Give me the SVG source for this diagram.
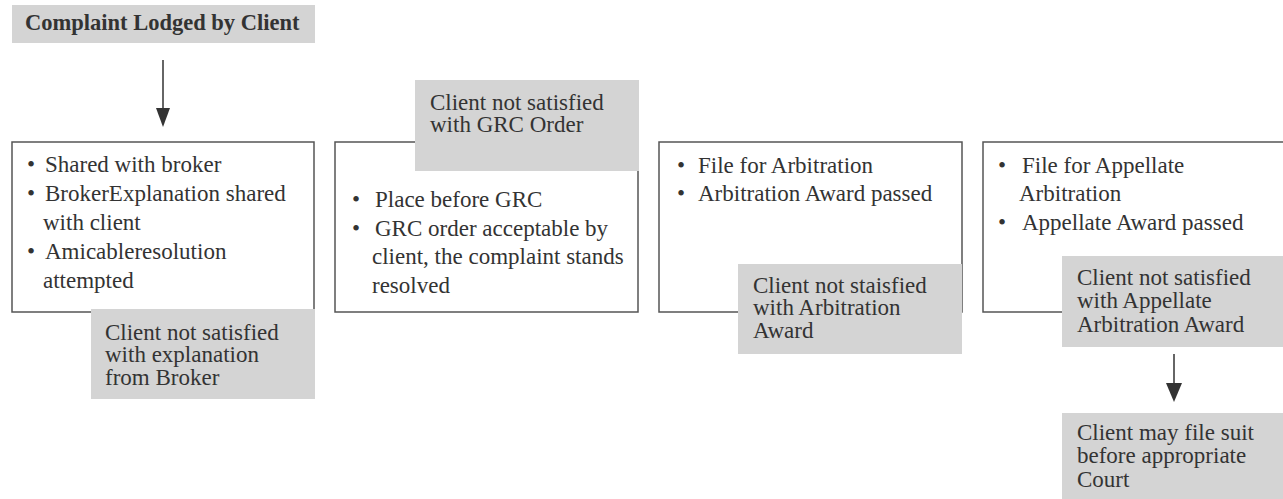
<svg xmlns="http://www.w3.org/2000/svg" width="1283" height="499" viewBox="0 0 1283 499" font-family="'Liberation Serif', 'DejaVu Serif', serif">
<style>
text{font-family:'Liberation Serif','DejaVu Serif',serif;font-size:23px;fill:#333}
.bold{font-weight:bold;font-size:22.5px}
.box{fill:#fff;stroke:#555;stroke-width:1.5}
.grey{fill:#d4d4d4}
.conn{stroke:#333;stroke-width:1.5;fill:none}
.head{fill:#333}
</style>
<rect width="1283" height="499" fill="#fff"/>
<g id="start">
<rect class="grey" x="12" y="5" width="303" height="38"/>
<text class="bold" x="25" y="30">Complaint Lodged by Client</text>
</g>
<g id="connectors">
<line class="conn" x1="163" y1="60" x2="163" y2="108"/>
<path class="head" d="M156,108 L170,108 L163,127 Z"/>
<line class="conn" x1="1174" y1="354" x2="1174" y2="383"/>
<path class="head" d="M1166,383 L1182,383 L1174,402 Z"/>
</g>
<g id="box1">
<rect class="box" x="12" y="142" width="302" height="170"/>
<text x="27" y="172">•</text><text x="45" y="172">Shared with broker</text>
<text x="27" y="201">•</text><text x="45" y="201">BrokerExplanation shared</text>
<text x="43" y="230">with client</text>
<text x="27" y="259">•</text><text x="45" y="259">Amicableresolution</text>
<text x="43" y="288">attempted</text>
</g>
<g id="box2">
<rect class="box" x="335" y="142" width="303" height="170"/>
<text x="352" y="207">•</text><text x="375" y="207">Place before GRC</text>
<text x="352" y="235.5">•</text><text x="375" y="235.5">GRC order acceptable by</text>
<text x="372" y="264">client, the complaint stands</text>
<text x="372" y="293">resolved</text>
</g>
<g id="box3">
<rect class="box" x="659" y="142" width="303" height="170"/>
<text x="677" y="173">•</text><text x="698" y="173">File for Arbitration</text>
<text x="677" y="201">•</text><text x="698" y="201">Arbitration Award passed</text>
</g>
<g id="box4">
<rect class="box" x="983" y="142" width="305" height="170"/>
<text x="998" y="173">•</text><text x="1022" y="173">File for Appellate</text>
<text x="1019" y="201">Arbitration</text>
<text x="998" y="230">•</text><text x="1022" y="230">Appellate Award passed</text>
</g>
<g id="note1">
<rect class="grey" x="91" y="309" width="224" height="90"/>
<text x="105" y="340">Client not satisfied</text>
<text x="105" y="362">with explanation</text>
<text x="105" y="385">from Broker</text>
</g>
<g id="note2">
<rect class="grey" x="415" y="80" width="224" height="91"/>
<text x="430" y="110">Client not satisfied</text>
<text x="430" y="132">with GRC Order</text>
</g>
<g id="note3">
<rect class="grey" x="738" y="264" width="224" height="90"/>
<text x="753" y="293">Client not staisfied</text>
<text x="753" y="315">with Arbitration</text>
<text x="753" y="338">Award</text>
</g>
<g id="note4">
<rect class="grey" x="1062" y="256" width="224" height="91"/>
<text x="1077" y="285">Client not satisfied</text>
<text x="1077" y="308">with Appellate</text>
<text x="1077" y="331.5">Arbitration Award</text>
</g>
<g id="note5">
<rect class="grey" x="1062" y="413" width="224" height="90"/>
<text x="1077" y="440">Client may file suit</text>
<text x="1077" y="463">before appropriate</text>
<text x="1077" y="487">Court</text>
</g>
</svg>
